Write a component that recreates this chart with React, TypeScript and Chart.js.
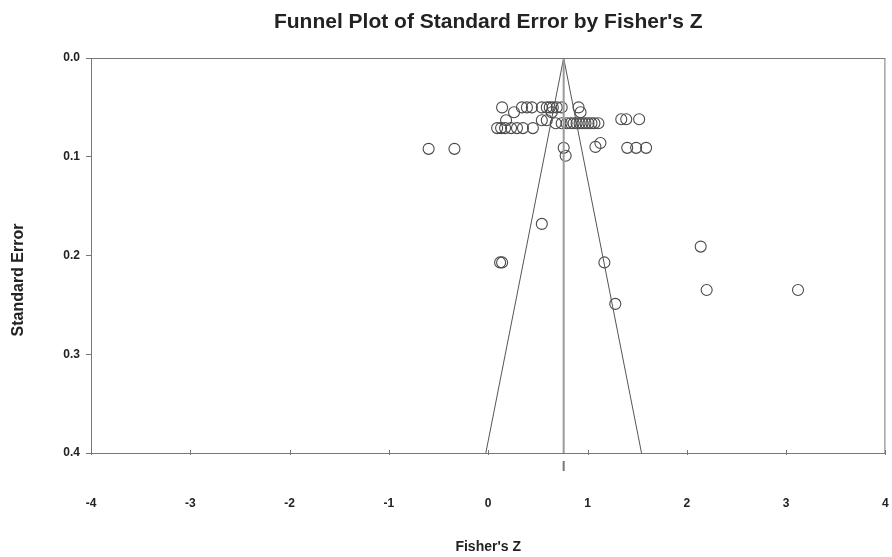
import React, { useEffect, useRef } from "react";
import { Chart, registerables } from "chart.js";

Chart.register(...registerables);

const TITLE = "Funnel Plot of Standard Error by Fisher's Z";
const X_TITLE = "Fisher's Z";
const Y_TITLE = "Standard Error";

const fisherZ: number[] = [
  0.14, 0.34, 0.39, 0.44, 0.54, 0.59, 0.62, 0.65, 0.69, 0.74, 0.91,
  0.26, 0.64, 0.93,
  0.18, 0.54, 0.59,
  0.68, 0.74, 0.79, 0.83, 0.86, 0.89, 0.92, 0.95, 0.98, 1.01, 1.04, 1.07, 1.11,
  1.34, 1.39, 1.52,
  0.09, 0.13, 0.17, 0.23, 0.29, 0.35, 0.45,
  -0.6, -0.34, 0.76, 1.4, 1.49, 1.59, 1.08, 1.13, 0.78,
  0.54, 0.12, 0.14, 1.17, 1.28, 2.14, 2.2, 3.12,
];
const stdErr: number[] = [
  0.05, 0.05, 0.05, 0.05, 0.05, 0.05, 0.05, 0.05, 0.05, 0.05, 0.05,
  0.055, 0.055, 0.055,
  0.063, 0.063, 0.063,
  0.066, 0.066, 0.066, 0.066, 0.066, 0.066, 0.066, 0.066, 0.066, 0.066, 0.066, 0.066, 0.066,
  0.062, 0.062, 0.062,
  0.071, 0.071, 0.071, 0.071, 0.071, 0.071, 0.071,
  0.092, 0.092, 0.091, 0.091, 0.091, 0.091, 0.09, 0.086, 0.099,
  0.168, 0.207, 0.207, 0.207, 0.249, 0.191, 0.235, 0.235,
];
const meanZ = 0.76;
const seMax = 0.4;
const xTicks: number[] = [-4, -3, -2, -1, 0, 1, 2, 3, 4];
const yTicks: string[] = ["0.0", "0.1", "0.2", "0.3", "0.4"];

const FONT = "'Liberation Sans', Arial, sans-serif";

const decorPlugin = {
  id: "decor",
  afterDraw(chart: any) {
    const { ctx, chartArea } = chart;
    const xs = chart.scales.x;
    ctx.save();
    // frame
    ctx.strokeStyle = "#777";
    ctx.lineWidth = 1;
    ctx.strokeRect(chartArea.left + 0.5, chartArea.top + 0.5, chartArea.right - chartArea.left - 1, chartArea.bottom - chartArea.top);
    // small x tick marks
    ctx.beginPath();
    xs.ticks.forEach((t: any) => {
      const px = Math.round(xs.getPixelForValue(t.value)) + 0.5;
      ctx.moveTo(px, chartArea.bottom - 3);
      ctx.lineTo(px, chartArea.bottom + 2);
    });
    ctx.stroke();
    // mean marker below axis
    const mx = xs.getPixelForValue(meanZ);
    ctx.strokeStyle = "#777";
    ctx.lineWidth = 2;
    ctx.beginPath();
    ctx.moveTo(mx, chartArea.bottom + 8);
    ctx.lineTo(mx, chartArea.bottom + 18);
    ctx.stroke();
    // titles
    ctx.fillStyle = "#222";
    ctx.textAlign = "center";
    ctx.textBaseline = "alphabetic";
    ctx.font = `bold 21px ${FONT}`;
    ctx.fillText(TITLE, (chartArea.left + chartArea.right) / 2, 28);
    ctx.font = `bold 14px ${FONT}`;
    ctx.fillText(X_TITLE, (chartArea.left + chartArea.right) / 2, 551);
    ctx.translate(23, 280);
    ctx.rotate(-Math.PI / 2);
    ctx.font = `bold 16px ${FONT}`;
    ctx.fillText(Y_TITLE, 0, 0);
    ctx.restore();
  },
};

export default function App() {
  const ref = useRef<HTMLCanvasElement>(null);
  useEffect(() => {
    if (!ref.current) return;
    const points = fisherZ.map((x, i) => ({ x, y: stdErr[i] }));
    const funnel = [
      { x: meanZ - 1.96 * seMax, y: seMax },
      { x: meanZ, y: 0 },
      { x: meanZ + 1.96 * seMax, y: seMax },
    ];
    const meanLine = [
      { x: meanZ, y: 0 },
      { x: meanZ, y: seMax },
    ];
    const chart = new Chart(ref.current, {
      type: "scatter",
      data: {
        datasets: [
          {
            data: meanLine,
            showLine: true,
            borderColor: "#9a9a9a",
            borderWidth: 2,
            pointRadius: 0,
          } as any,
          {
            data: funnel,
            showLine: true,
            borderColor: "#555",
            borderWidth: 1,
            pointRadius: 0,
          } as any,
          {
            data: points,
            pointStyle: "circle",
            pointRadius: 5.5,
            backgroundColor: "rgba(0,0,0,0)",
            borderColor: "#4a4a4a",
            borderWidth: 1.1,
          } as any,
        ],
      },
      plugins: [decorPlugin],
      options: {
        animation: false,
        responsive: false,
        devicePixelRatio: 1,
        layout: { padding: { top: 58, right: 3, left: 0, bottom: 0 } },
        plugins: { legend: { display: false }, tooltip: { enabled: false }, title: { display: false } },
        scales: {
          x: {
            type: "linear",
            min: -4,
            max: 4,
            afterFit: (s: any) => { s.height = 104; },
            afterBuildTicks: (s: any) => { s.ticks = xTicks.map((v) => ({ value: v })); },
            ticks: {
              padding: 0,
              color: "#222",
              font: { family: FONT, size: 12, weight: "bold" },
              callback: (v: any) => String(v),
            },
            grid: { drawOnChartArea: false, tickLength: 43, tickColor: "rgba(0,0,0,0)", color: "rgba(0,0,0,0)" },
            border: { color: "#777" },
          },
          y: {
            type: "linear",
            min: 0,
            max: seMax,
            reverse: true,
            afterFit: (s: any) => { s.width = 91; },
            afterBuildTicks: (s: any) => { s.ticks = yTicks.map((t) => ({ value: parseFloat(t) })); },
            ticks: {
              padding: 6,
              color: "#222",
              font: { family: FONT, size: 12, weight: "bold" },
              callback: (v: any) => Number(v).toFixed(1),
            },
            grid: { drawOnChartArea: false, tickLength: 5, color: "#777" },
            border: { color: "#777" },
          },
        },
      },
    });
    return () => chart.destroy();
  }, []);
  return (
    <div style={{ position: "fixed", left: 0, top: 0, width: 892, height: 557, background: "#fff" }}>
      <canvas ref={ref} width={892} height={557} />
    </div>
  );
}
